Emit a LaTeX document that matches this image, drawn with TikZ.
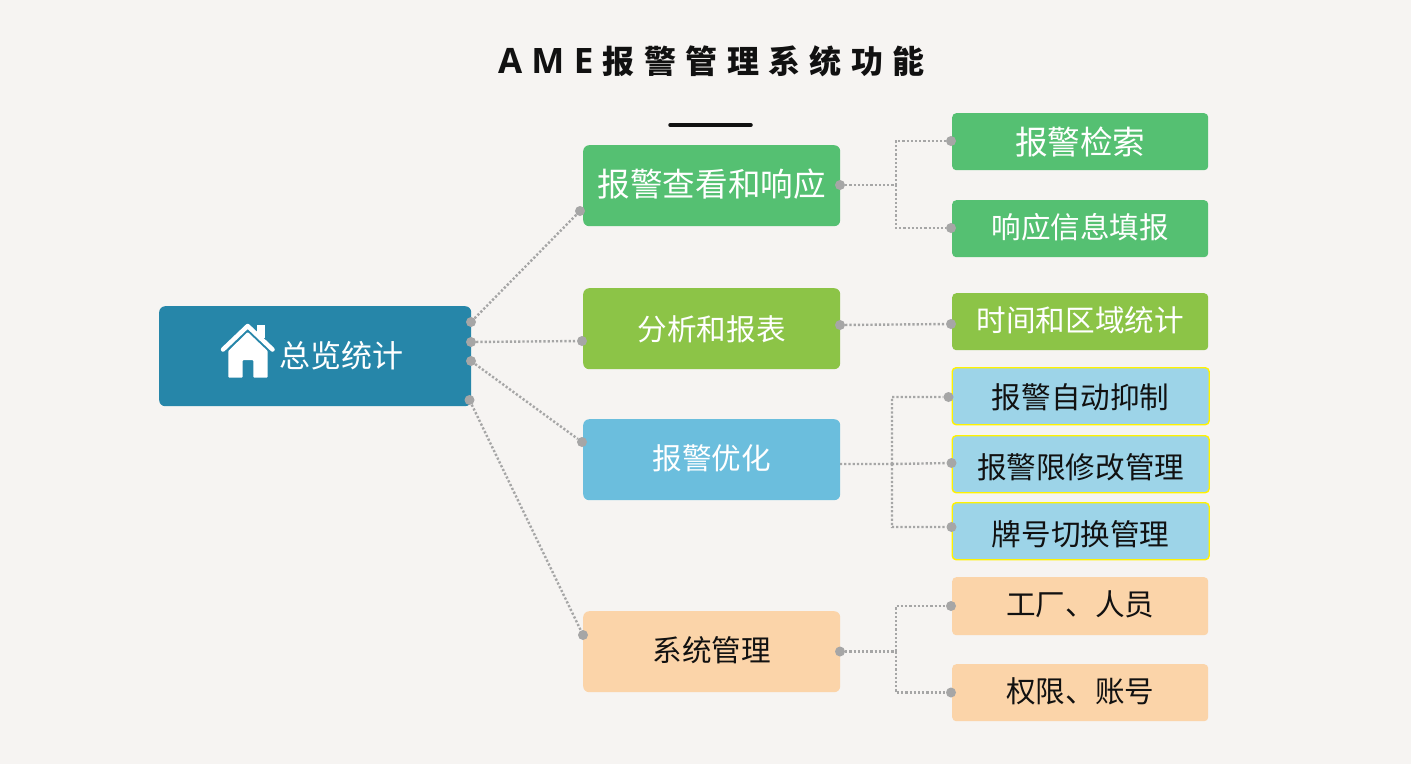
\documentclass[tikz,border=0pt]{standalone}
\usepackage{fontspec}
\setmainfont{Noto Sans CJK SC}
\newfontfamily\latinf{Open Sans}
\newcommand{\nudge}[2]{\raisebox{#1}[\height][\depth]{#2}}
\definecolor{bgc}{HTML}{F6F4F2}
\definecolor{mainc}{HTML}{2686A9}
\definecolor{greenc}{HTML}{55C072}
\definecolor{olivec}{HTML}{8CC447}
\definecolor{bluec}{HTML}{6BBEDD}
\definecolor{peachc}{HTML}{FBD4A9}
\definecolor{paleblue}{HTML}{9DD4E8}
\definecolor{dotc}{HTML}{A6A6A6}
\definecolor{inkc}{HTML}{111111}
\tikzset{
 boxbase/.style={rounded corners=6pt,inner sep=0pt,anchor=north west,align=center},
 midbox/.style={boxbase,minimum width=257pt,minimum height=81pt},
 subbox/.style={boxbase,minimum width=256pt,minimum height=57pt,rounded corners=4pt},
 optbox/.style={subbox,fill=paleblue,draw=yellow,line width=1.4pt,minimum width=257pt,text=inkc,font=\fontsize{29.6pt}{30pt}\selectfont},
 dotn/.style={circle,fill=dotc,inner sep=0pt,minimum size=10pt},
 link/.style={draw=dotc,line width=2.4pt,dash pattern=on 2.2pt off 2pt},
 wtext/.style={text=white,font=\fontsize{29.6pt}{30pt}\selectfont},
 ktext/.style={text=inkc,font=\fontsize{29.6pt}{30pt}\selectfont},
}
\begin{document}
\begin{tikzpicture}[x=1pt,y=-1pt]
\fill[bgc] (0,0) rectangle (1411,764);
\useasboundingbox (0,0) rectangle (1411,764);
% title
\node[text=inkc,font=\fontsize{32pt}{34pt}\selectfont\bfseries,inner sep=0pt,anchor=west] (title) at (498,61.5)
 {{\latinf\fontsize{35pt}{36pt}\selectfont A\kern 9pt M\kern 9.5pt E}\kern 9.5pt 报\kern 9.4pt 警\kern 9.4pt 管\kern 9.4pt 理\kern 9.4pt 系\kern 9.4pt 统\kern 9.4pt 功\kern 9.4pt 能};
\coordinate (ruleL) at (670,125);
\coordinate (ruleR) at (751,125);
\draw[inkc,line width=3.5pt,line cap=round] (ruleL) -- (ruleR);
% main
\node[boxbase,fill=mainc,minimum width=312pt,minimum height=100pt] (main) at (159,306) {};
\node[wtext,font=\fontsize{31pt}{32pt}\selectfont,inner sep=0pt] (mainlabel) at (341,355.5) {总览统计};
% house icon
\draw[white,line width=4.5pt,line cap=round,line join=round] (223,349.5) -- (247.7,326) -- (272.5,349.5);
\fill[white] (257,325) rectangle (265,338);
\fill[white,rounded corners=0.8pt] (228.3,351) -- (247.7,332) -- (267.7,351) -- (267.7,377.5) -- (253.3,377.5) -- (253.3,360) -- (242.7,360) -- (242.7,377.5) -- (228.3,377.5) -- cycle;
% middle
\node[midbox,fill=greenc,wtext,font=\fontsize{32.6pt}{33pt}\selectfont] (m1) at (583,145) {\nudge{2pt}{报警查看和响应}};
\node[midbox,fill=olivec,wtext] (m2) at (583,288) {\nudge{-1pt}{分析和报表}};
\node[midbox,fill=bluec,wtext] (m3) at (583,419) {\nudge{1pt}{报警优化}};
\node[midbox,fill=peachc,ktext] (m4) at (583,611) {\nudge{2pt}{系统管理}};
% right
\node[subbox,fill=greenc,wtext,font=\fontsize{32.6pt}{33pt}\selectfont] (s1) at (952,113) {报警检索};
\node[subbox,fill=greenc,wtext] (s2) at (952,200) {\nudge{1pt}{响应信息填报}};
\node[subbox,fill=olivec,wtext] (s3) at (952,293) {\nudge{2pt}{时间和区域统计}};
\node[optbox] (s4) at (951.5,367) {\nudge{-1pt}{报警自动抑制}};
\node[optbox] (s5) at (951.5,435) {\nudge{-3pt}{报警限修改管理}};
\node[optbox] (s6) at (951.5,502) {\nudge{-3pt}{牌号切换管理}};
\node[subbox,fill=peachc,ktext,minimum height=58pt] (s7) at (952,577) {\nudge{2pt}{工厂、人员}};
\node[subbox,fill=peachc,ktext] (s8) at (952,664) {\nudge{1pt}{权限、账号}};
% dots on main
\node[dotn] (a1) at (471,322) {};
\node[dotn] (a2) at (471,342) {};
\node[dotn] (a3) at (471,361) {};
\node[dotn] (a4) at (469.5,400) {};
\node[dotn] (b1) at (580,211) {};
\node[dotn] (b2) at (582,341) {};
\node[dotn] (b3) at (582,442) {};
\node[dotn] (b4) at (583,635) {};
\draw[link] (a1) -- (b1);
\draw[link] (a2) -- (b2);
\draw[link] (a3) -- (b3);
\draw[link] (a4) -- (b4);
% right connectors
\node[dotn] (c1) at (840,185) {};
\node[dotn] (d1) at (951,141) {};
\node[dotn] (d2) at (951,228) {};
\coordinate (j1) at (896,185);
\draw[link] (c1) -- (j1) (j1) |- (d1) (j1) |- (d2);
\node[dotn] (c2) at (840,325) {};
\node[dotn] (d3) at (951,324) {};
\draw[link] (c2) -- (d3);
\coordinate (c3) at (840,464);
\node[dotn] (d4) at (948.5,397) {};
\node[dotn] (d5) at (951.5,463) {};
\node[dotn] (d6) at (951.5,527) {};
\coordinate (j3) at (892,464);
\draw[link] (c3) -- (j3) (j3) |- (d4) (j3) -- (d5) (j3) |- (d6);
\node[dotn] (c4) at (840,651.5) {};
\node[dotn] (d7) at (951,606) {};
\node[dotn] (d8) at (951,692.5) {};
\coordinate (j4) at (896,651.5);
\draw[link] (c4) -- (j4) (j4) |- (d7) (j4) |- (d8);
\end{tikzpicture}
\end{document}
